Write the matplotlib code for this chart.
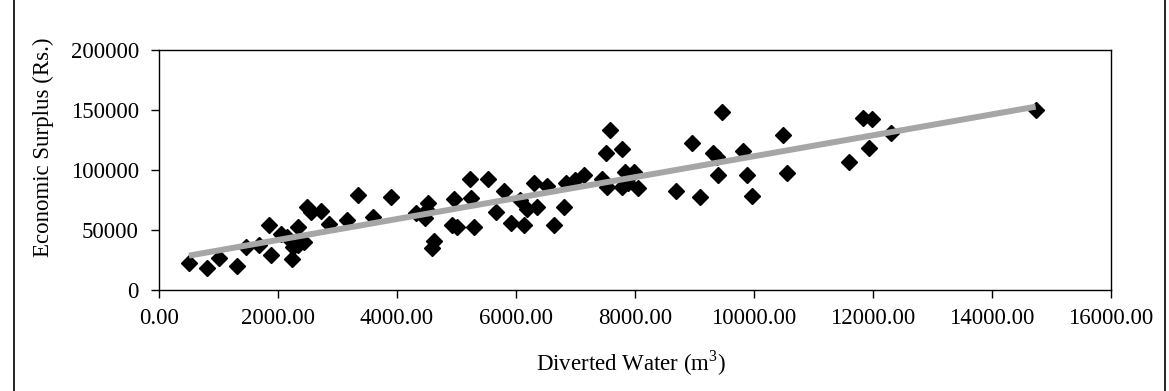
import matplotlib
matplotlib.use("Agg")
from matplotlib import pyplot as plt
from matplotlib.lines import Line2D
import numpy as np

# diverted water (m3) and economic surplus (Rs.) per farm
water = [504, 807, 1008, 1305, 1457, 1681, 1849, 1882, 2045, 2146,
         2240, 2341, 2257, 2341, 2437, 2482, 2555, 2717, 2857, 3155,
         3350, 3591, 3894, 4314, 4471, 4527, 4500, 4627, 4594, 4958,
         4919, 5003, 5227, 5238, 5299, 5535, 5656, 5803, 5919, 6067,
         6140, 6190, 6348, 6308, 6516, 6639, 6807, 6840, 6992, 7143,
         7451, 7513, 7580, 7524, 7776, 7776, 7832, 7989, 7888, 8050,
         8689, 8953, 9093, 9317, 9373, 9390, 9457, 9821, 9889, 9962,
         10494, 10558, 11602, 11837, 11978, 11938, 12305, 14734]
surplus = [21800, 18200, 26500, 19900, 35200, 36800, 53500, 28500, 46300, 44000,
           25200, 52400, 35700, 37100, 39900, 69000, 64900, 65500, 54400, 58000,
           78600, 60700, 77200, 63600, 59400, 72400, 66500, 40700, 34400, 75500,
           53800, 51900, 91900, 76100, 52100, 91900, 64900, 82400, 55200, 74700,
           53500, 67500, 68500, 88600, 86300, 53800, 68500, 89100, 91300, 95500,
           91900, 113600, 133600, 85800, 117000, 85800, 98300, 98300, 89100, 84900,
           82200, 122000, 76900, 114400, 110800, 95300, 148300, 115800, 95500, 78300,
           128900, 96900, 106600, 143600, 142000, 118300, 130300, 150300]

x_ticks = [0, 2000, 4000, 6000, 8000, 10000, 12000, 14000, 16000]
y_ticks = [0, 50000, 100000, 150000, 200000]

plt.rcParams['font.family'] = ['Liberation Serif', 'DejaVu Serif']
plt.rcParams['mathtext.fontset'] = 'custom'
plt.rcParams['mathtext.rm'] = 'Liberation Serif'

W, H = 1169, 391
fig = plt.figure(figsize=(W / 100, H / 100), dpi=100)
ax = fig.add_axes([159 / W, 1 - 289.5 / H, (1111 - 159) / W, (289.5 - 50) / H])

# linear trend line through the points
slope, icpt = np.polyfit(water, surplus, 1)
xs = np.array([min(water), max(water)])
ax.plot(xs, slope * xs + icpt, color='#a6a6a6', lw=4.3, solid_capstyle='butt', zorder=3)

ax.plot(water, surplus, ls='none', marker='D', ms=8.2, color='black', zorder=2)

ax.set_xlim(0, 16000)
ax.set_ylim(0, 200000)
ax.set_xticks(x_ticks)
ax.set_yticks(y_ticks)
ax.set_xticklabels([f"{v:.2f}" for v in x_ticks])
ax.set_yticklabels([str(v) for v in y_ticks])
ax.tick_params(direction='out', length=5.5, width=1, labelsize=16.5, color='black')
ax.tick_params(axis='x', pad=8)
ax.tick_params(axis='y', pad=9)
for s in ax.spines.values():
    s.set_linewidth(1)

fig.text(43 / W, 1 - 147 / H, 'Economic Surplus (Rs.)', rotation=90,
         ha='center', va='center', fontsize=16.5)
fig.text(631 / W, 1 - 363 / H, r'Diverted Water (m$^{\mathregular{3}}$)',
         ha='center', va='center', fontsize=16.5)

# outer frame lines left and right
for xp in (13.5, 1165):
    fig.add_artist(Line2D([xp / W, xp / W], [0, 1], color='black', lw=1.2,
                          transform=fig.transFigure))

fig.savefig('out.png', dpi=100)
